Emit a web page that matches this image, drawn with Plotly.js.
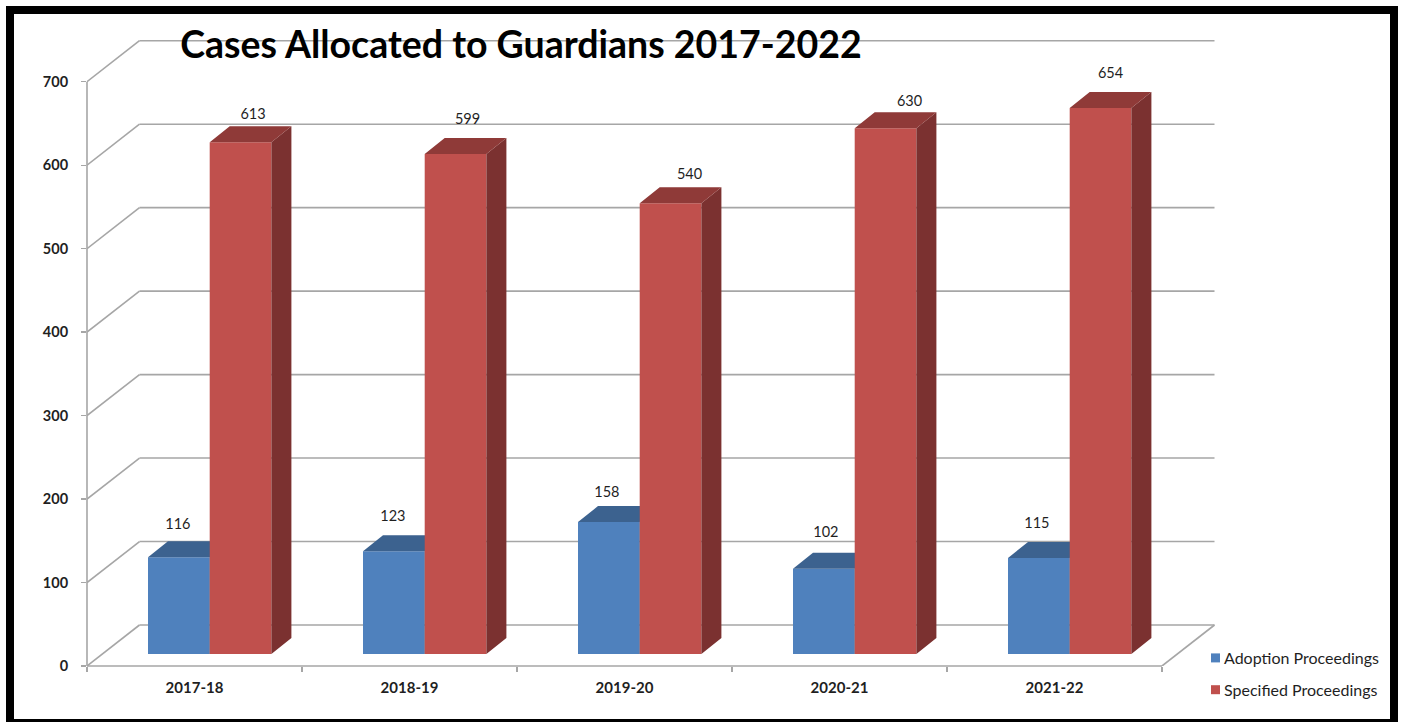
<!DOCTYPE html>
<html>
<head>
<meta charset="utf-8">
<script src="https://cdn.plot.ly/plotly-3.0.1.min.js"></script>
<style>html,body{margin:0;padding:0;background:#fff}</style>
</head>
<body>
<div id="chart" style="width:1403px;height:722px"></div>
<script>
// Chart data
const years = ['2017-18', '2018-19', '2019-20', '2020-21', '2021-22'];
const adoption = [116, 123, 158, 102, 115];
const specified = [613, 599, 540, 630, 654];
const yTicks = [0, 100, 200, 300, 400, 500, 600, 700];

// Plot frame, in page pixels
const LEFT = 87, RIGHT = 1225, TOP = 30, BOTTOM = 666;
const PX_PER_GROUP = 215, PX_PER_UNIT = 0.8347;
const ux = p => p / PX_PER_GROUP;
const uy = p => p / PX_PER_UNIT;
const paperX = p => (p - LEFT) / (RIGHT - LEFT);
const paperY = p => (BOTTOM - p) / (BOTTOM - TOP);

// Oblique projection: wall depth and bar depth
const wallDx = ux(52.5), wallDy = uy(41);
const barDx = ux(20), barDy = uy(16);
const floorBase = uy(12);
const barWidth = ux(61.7);
const blueLeft = ux(61), redLeft = ux(122.7);

const GRID = '#a6a6a6';
const TEXT = '#1f1f1f';
const FONT = 'Lato, "Noto Sans", sans-serif';

function segment(x0, y0, x1, y1, xref, yref) {
  return {type: 'line', layer: 'below', xref: xref || 'x', yref: yref || 'y', x0, y0, x1, y1,
          line: {color: GRID, width: 1.6}};
}

// Back wall, side wall and floor lines
const shapes = [];
yTicks.forEach(v => {
  shapes.push(segment(0, v, wallDx, v + wallDy));
  shapes.push(segment(wallDx, v + wallDy, years.length + wallDx, v + wallDy));
});
shapes.push(segment(years.length, 0, years.length + wallDx, wallDy));
shapes.push(segment(0, 0, years.length, 0, 'x', 'paper'));
shapes.push({type: 'line', layer: 'below', xref: 'paper', yref: 'y', x0: 0, x1: 0, y0: 0, y1: 700,
             line: {color: GRID, width: 1.6}});
// Clear the wall line behind the heading
shapes.push({type: 'rect', layer: 'below', xref: 'paper', yref: 'paper',
             x0: paperX(175), x1: paperX(868), y0: paperY(46), y1: paperY(34),
             fillcolor: '#fff', line: {width: 0}});
// Outer picture frame
shapes.push({type: 'rect', layer: 'above', xref: 'paper', yref: 'paper',
             x0: paperX(10), x1: paperX(1394), y0: paperY(723), y1: paperY(10),
             fillcolor: 'rgba(0,0,0,0)', line: {color: '#000', width: 8}});

// Extruded top and side faces for one series
function faces(values, leftOf, topColor, sideColor, xa, ya) {
  const top = {x: [], y: []}, side = {x: [], y: []};
  values.forEach((v, i) => {
    const l = i + leftOf, r = l + barWidth, t = floorBase + v;
    top.x.push(l, l + barDx, r + barDx, r, l, null);
    top.y.push(t, t + barDy, t + barDy, t, t, null);
    side.x.push(r, r + barDx, r + barDx, r, r, null);
    side.y.push(floorBase, floorBase + barDy, t + barDy, t, floorBase, null);
  });
  const face = (d, c) => ({type: 'scatter', mode: 'lines', x: d.x, y: d.y, xaxis: xa, yaxis: ya,
    fill: 'toself', fillcolor: c, line: {width: 0, color: c}, hoverinfo: 'skip', showlegend: false});
  return [face(side, sideColor), face(top, topColor)];
}

function bars(name, values, leftOf, color, xa, ya) {
  return {type: 'bar', name, legendgroup: name, x: values.map((_, i) => i + leftOf + barWidth / 2), y: values,
          base: values.map(() => floorBase), width: values.map(() => barWidth),
          xaxis: xa, yaxis: ya, marker: {color, line: {width: 0}}};
}

// Value labels sit above each bar's top face, hand-placed per bar in pixels
const shiftA = {x: [-1, -1, -2, 2, -2], y: [16, 18, 13, 19, 18]};
const shiftS = {x: [12.5, 12, 19, 24, 10], y: [10.5, 18, 12, 10, 18]};
function labels(values, leftOf, shift) {
  return {type: 'scatter', mode: 'text', xaxis: 'x2', yaxis: 'y2', showlegend: false, hoverinfo: 'skip',
    x: values.map((_, i) => i + leftOf + barWidth / 2 + ux(shift.x[i])),
    y: values.map((v, i) => floorBase + v + barDy + uy(shift.y[i])),
    text: values.map(String), textposition: 'middle center',
    textfont: {family: FONT, size: 14.5, color: TEXT}, cliponaxis: false};
}

const traces = [
  bars('Adoption Proceedings', adoption, blueLeft, '#4f81bd', 'x', 'y'),
  ...faces(adoption, blueLeft, '#3c628f', '#335478', 'x', 'y'),
  bars('Specified Proceedings', specified, redLeft, '#c0504d', 'x2', 'y2'),
  ...faces(specified, redLeft, '#8f3a38', '#7b3130', 'x2', 'y2'),
  labels(adoption, blueLeft, shiftA),
  labels(specified, redLeft, shiftS)
];

const xRange = [0, ux(RIGHT - LEFT)], yRange = [0, uy(BOTTOM - TOP)];
const layout = {
  width: 1403, height: 722, autosize: false,
  margin: {l: LEFT, r: 1403 - RIGHT, t: TOP, b: 722 - BOTTOM, pad: 0},
  paper_bgcolor: '#fff', plot_bgcolor: 'rgba(0,0,0,0)',
  barmode: 'overlay',
  title: {text: 'Cases Allocated to Guardians 2017-2022', xref: 'paper', yref: 'container',
          x: paperX(521), xanchor: 'center', y: 1 - 45 / 722, yanchor: 'middle',
          font: {family: FONT, size: 37.5, color: '#000', weight: 700}},
  xaxis: {type: 'linear', range: xRange, showgrid: false, zeroline: false, showline: false, fixedrange: true,
          tickmode: 'array', tickvals: years.map((_, i) => i + 0.5), ticktext: years, ticks: '',
          ticklabelstandoff: 11,
          tickfont: {family: FONT, size: 15, color: TEXT, weight: 700},
          minor: {tickmode: 'array', tickvals: [0, 1, 2, 3, 4, 5], ticks: 'outside', ticklen: 5,
                  tickwidth: 1.3, tickcolor: GRID, showgrid: false}},
  yaxis: {type: 'linear', range: yRange, showgrid: false, zeroline: false, showline: false, fixedrange: true,
          tickmode: 'array', tickvals: yTicks, ticks: 'outside', ticklen: 5, tickwidth: 1.3, tickcolor: GRID,
          ticklabelstandoff: 10,
          tickfont: {family: FONT, size: 14.5, color: TEXT, weight: 700}},
  xaxis2: {overlaying: 'x', anchor: 'y2', range: xRange, visible: false, fixedrange: true},
  yaxis2: {overlaying: 'y', anchor: 'x2', range: yRange, visible: false, fixedrange: true},
  shapes,
  showlegend: true,
  legend: {x: paperX(1184), xanchor: 'left', y: paperY(641), yanchor: 'top', orientation: 'v',
           traceorder: 'grouped', tracegroupgap: 8, bgcolor: 'rgba(0,0,0,0)',
           font: {family: FONT, size: 16, color: TEXT}}
};

Plotly.newPlot('chart', traces, layout, {displayModeBar: false, staticPlot: true}).then(() => {
  // Smaller swatches set closer to the legend text
  document.querySelectorAll('.legendpoints').forEach(g => {
    g.setAttribute('transform', 'translate(16.5,0) scale(0.75)');
  });
});
</script>
</body>
</html>
